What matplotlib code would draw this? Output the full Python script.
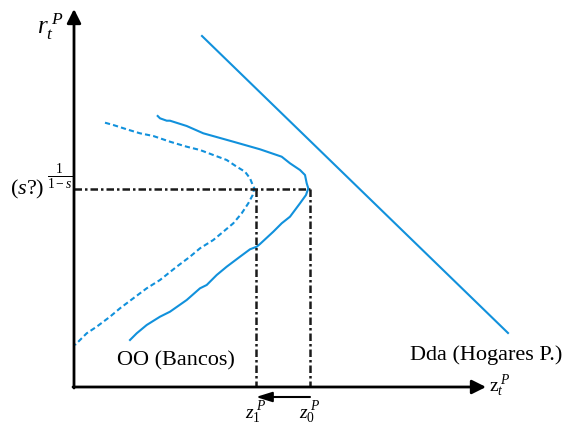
import numpy as np
import matplotlib.pyplot as plt

# curve points (pixel-like units, y grows downwards)
oo_x = [157.7, 160, 166.7, 170, 186.7, 203.3, 233.3, 260, 281.7, 290, 300, 305, 306.7, 308.3,
        306, 300, 290, 281.7, 273.3, 260, 256.7, 250, 240, 226.7, 216.7, 206.7, 200, 186.7,
        170, 160, 146.7, 136.7, 130]
oo_y = [116, 118.3, 120.7, 120.7, 126, 133.3, 141.7, 149.3, 156.7, 163.3, 170, 175, 183.3, 188.3,
        195, 203.3, 216.7, 223.3, 231.7, 244, 246.7, 249.3, 256.7, 266.7, 275, 285, 288.3, 300,
        311.7, 316.7, 325, 333.3, 340]
oo2_x = [105, 113.3, 126.7, 140, 153.3, 170, 186.7, 200, 213.3, 226.7, 236.7, 245, 250, 252.7,
         254.3, 252.7, 248.3, 241.7, 233.3, 223.3, 213.3, 200, 190, 176.7, 160, 146.7, 133.3,
         120, 110, 96.7, 86.7, 80, 75]
oo2_y = [122.7, 125, 129.3, 133.3, 136, 141.7, 146.7, 150, 155, 160, 166.7, 171.7, 178.3, 185,
         188.3, 195, 203.3, 213.3, 223.3, 231.7, 240, 248.3, 256.7, 266.7, 280, 288.3, 298.3,
         308.3, 316.7, 326.7, 333.3, 340, 345]
dda_x = [202, 508]
dda_y = [36, 333]
r_eq = 189
z0 = 310
z1 = 256
origin = (74, 387)
x_end = 486
y_end = 9

blue = '#1191dc'

plt.rcParams['mathtext.fontset'] = 'custom'
plt.rcParams['mathtext.rm'] = 'Liberation Serif'
plt.rcParams['mathtext.it'] = 'Liberation Serif:italic'
plt.rcParams['font.family'] = 'Liberation Serif'

fig = plt.figure(figsize=(5.74, 4.28), dpi=100)
ax = fig.add_axes([0, 0, 1, 1])
ax.set_xlim(0, 574)
ax.set_ylim(428, 0)
ax.axis('off')

# axes with arrows
ax.annotate('', xy=(origin[0], y_end), xytext=(origin[0], origin[1] + 1),
            arrowprops=dict(arrowstyle='-|>,head_length=0.6,head_width=0.3', lw=2,
                            color='black', mutation_scale=14, shrinkA=0, shrinkB=0))
ax.annotate('', xy=(x_end, origin[1]), xytext=(origin[0] - 1, origin[1]),
            arrowprops=dict(arrowstyle='-|>,head_length=0.6,head_width=0.3', lw=2,
                            color='black', mutation_scale=14, shrinkA=0, shrinkB=0))

# curves
ax.plot(oo_x, oo_y, color=blue, lw=1.5)
ax.plot(oo2_x, oo2_y, color=blue, lw=1.5, linestyle=(0, (2.5, 1.5)))
ax.plot(dda_x, dda_y, color=blue, lw=1.5)

# reference lines
dd = (0, (3, 1.2, 1, 1.2))
ax.plot([origin[0], z0], [r_eq, r_eq], color='#1a1a1a', lw=1.8, linestyle=dd)
ax.plot([z1, z1], [r_eq, origin[1]], color='#1a1a1a', lw=1.8, linestyle=dd)
ax.plot([z0, z0], [r_eq, origin[1]], color='#1a1a1a', lw=1.8, linestyle=dd)

# shift arrow z0 -> z1
ax.annotate('', xy=(z1, 397), xytext=(z0, 397),
            arrowprops=dict(arrowstyle='-|>,head_length=0.8,head_width=0.25', lw=1.5,
                            color='black', mutation_scale=12, shrinkA=0, shrinkB=0))

# labels
ax.text(50, 27, r'$r_t^{\;P}$', fontsize=18, ha='center', va='center')
ax.text(44, 189, r'$(s?)$', fontsize=16, ha='right', va='center')
ax.text(60, 177, r'$\frac{1}{1-s}$', fontsize=14, ha='center', va='center')
ax.text(z1, 413, r'$z_1^{\;P}$', fontsize=14, ha='center', va='center')
ax.text(z0, 413, r'$z_0^{\;P}$', fontsize=14, ha='center', va='center')
ax.text(500, 386, r'$\mathrm{z}_t^{\;P}$', fontsize=14, ha='center', va='center')
ax.text(117, 361, 'OO (Bancos)', fontsize=16, ha='left', va='center')
ax.text(410, 355, 'Dda (Hogares P.)', fontsize=16, ha='left', va='center')

fig.savefig('out.png', dpi=100)
